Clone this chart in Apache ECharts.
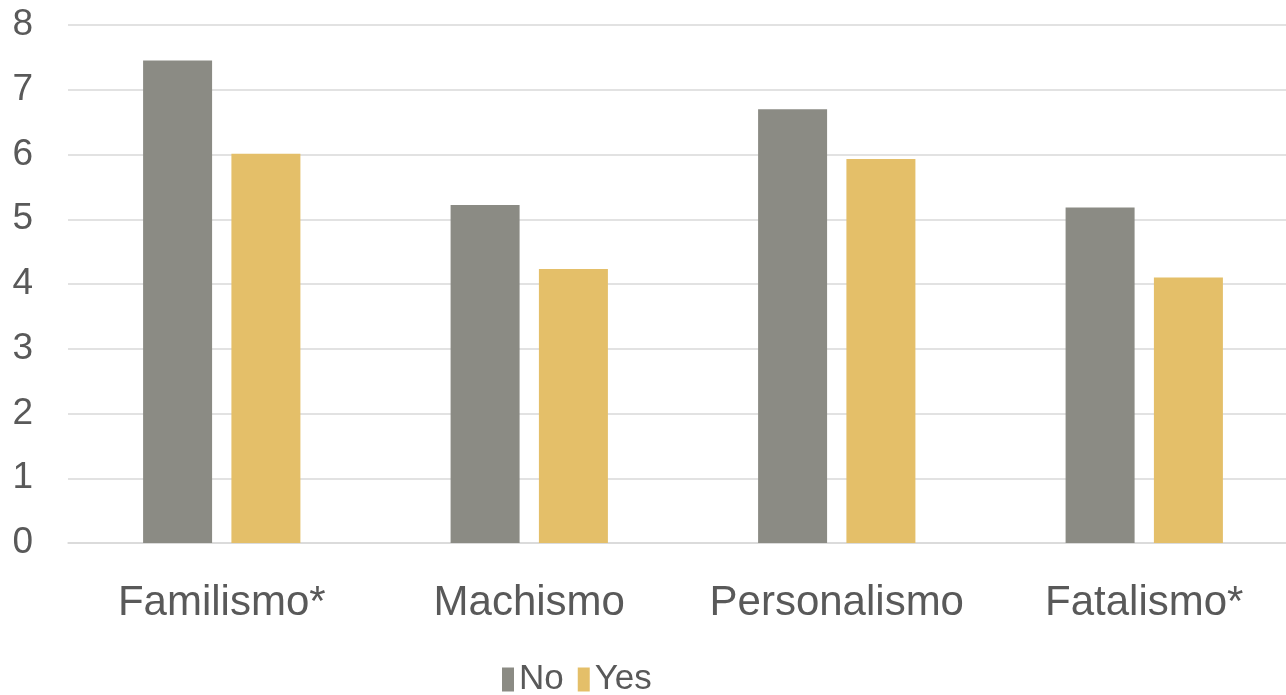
<!DOCTYPE html>
<html>
<head>
<meta charset="utf-8">
<script src="https://cdn.jsdelivr.net/npm/echarts@6/dist/echarts.min.js"></script>
<style>
  html, body { margin: 0; padding: 0; background: #ffffff; }
  #chart { width: 1286px; height: 695px; }
</style>
</head>
<body>
<div id="chart"></div>
<script>
// Mean scores by cultural value, split by group
const categories = ['Familismo*', 'Machismo', 'Personalismo', 'Fatalismo*'];
const noValues = [7.45, 5.22, 6.70, 5.18];
const yesValues = [6.01, 4.23, 5.93, 4.10];
const seriesNames = ['No', 'Yes'];
const yTicks = [0, 1, 2, 3, 4, 5, 6, 7, 8];

const chart = echarts.init(document.getElementById('chart'), null, { renderer: 'canvas' });

const textColor = '#595959';
const fontFamily = '"Liberation Sans", Arial, sans-serif';

chart.setOption({
  animation: false,
  backgroundColor: '#ffffff',
  grid: {
    left: 68, right: -12, top: 25, bottom: 152,
    containLabel: false,
    outerBoundsMode: 'none'
  },
  legend: {
    data: seriesNames,
    left: 497,
    top: 657,
    itemWidth: 12,
    itemHeight: 24,
    itemGap: 14,
    icon: 'rect',
    textStyle: { color: textColor, fontSize: 35, fontFamily: '"Liberation Sans Narrow", "Liberation Sans", sans-serif' }
  },
  xAxis: {
    type: 'category',
    data: categories,
    axisLine: { show: true, lineStyle: { color: '#d9d9d9', width: 1.5 } },
    axisTick: { show: false },
    axisLabel: { interval: 0, color: textColor, fontSize: 42, fontFamily: fontFamily, margin: 39 }
  },
  yAxis: {
    type: 'value',
    min: yTicks[0],
    max: yTicks[yTicks.length - 1],
    interval: 1,
    axisLine: { show: false },
    axisTick: { show: false },
    splitLine: { lineStyle: { color: '#d9d9d9', width: 1.5 } },
    axisLabel: { color: textColor, fontSize: 37, fontFamily: fontFamily, margin: 35 }
  },
  series: [
    {
      name: seriesNames[0],
      type: 'bar',
      data: noValues,
      barWidth: 69,
      barGap: '28%',
      itemStyle: { color: '#8b8b84' }
    },
    {
      name: seriesNames[1],
      type: 'bar',
      data: yesValues,
      barWidth: 69,
      barGap: '28%',
      itemStyle: { color: '#e4bf69' }
    }
  ]
});
</script>
</body>
</html>
